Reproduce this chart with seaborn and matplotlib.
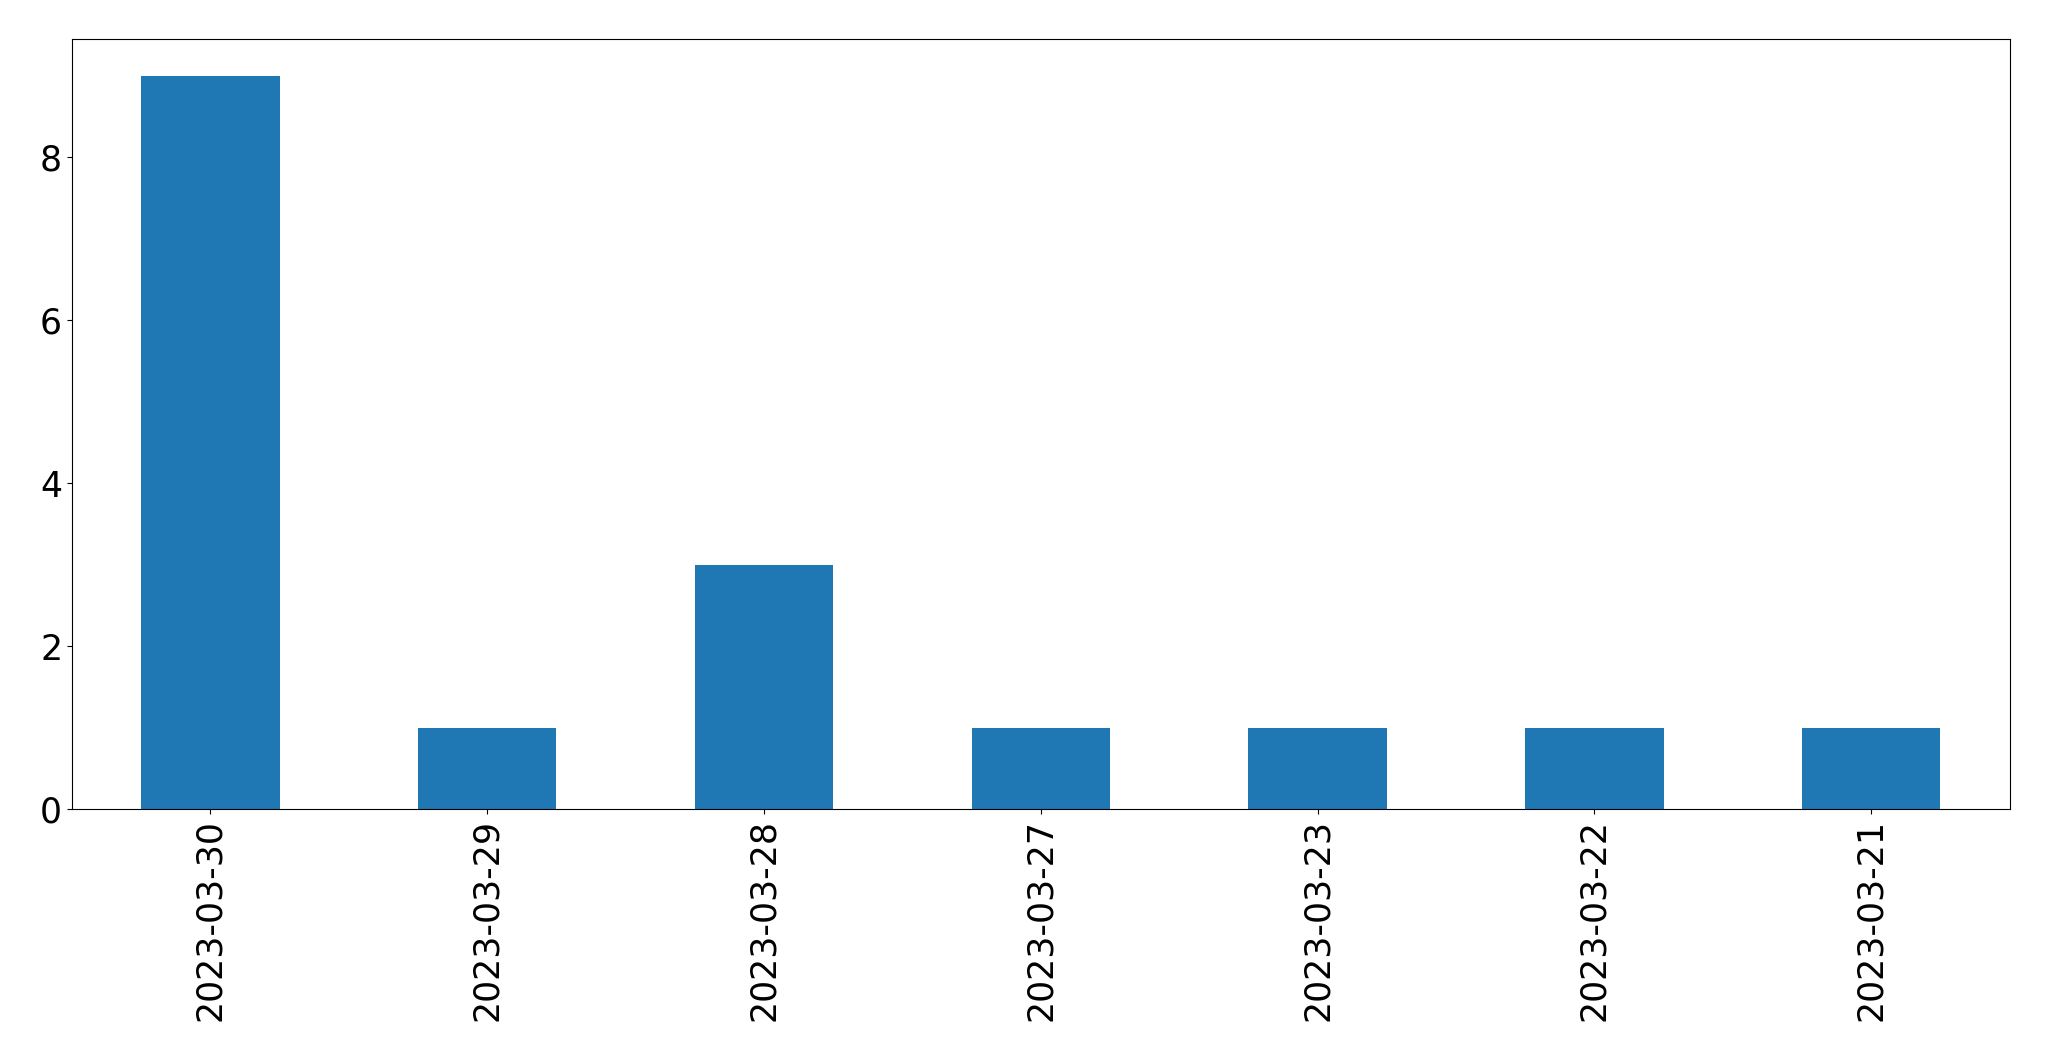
import pandas as pd
import numpy as np
import seaborn as sns
import matplotlib.pyplot as plt

# 日付ごとの件数
dates = ['2023-03-30', '2023-03-29', '2023-03-28', '2023-03-27',
         '2023-03-23', '2023-03-22', '2023-03-21']
counts = [9, 1, 3, 1, 1, 1, 1]

df = pd.DataFrame({'date': dates, 'count': counts})

fig = plt.figure(figsize=(20.49, 10.61), dpi=100)
ax = fig.add_axes([0.0351, 0.2375, 0.9457, 0.7257])

sns.barplot(data=df, x='date', y='count', color='#1f77b4', saturation=1,
            width=0.5, ax=ax)
ax.set_xlim(-0.5, len(dates) - 0.5)
ax.set_ylim(0, max(counts) * 1.05)
ax.set_xlabel('')
ax.set_ylabel('')
ax.tick_params(axis='both', labelsize=25)
ax.tick_params(axis='x', labelrotation=90)

plt.savefig('out.png', dpi=100)
